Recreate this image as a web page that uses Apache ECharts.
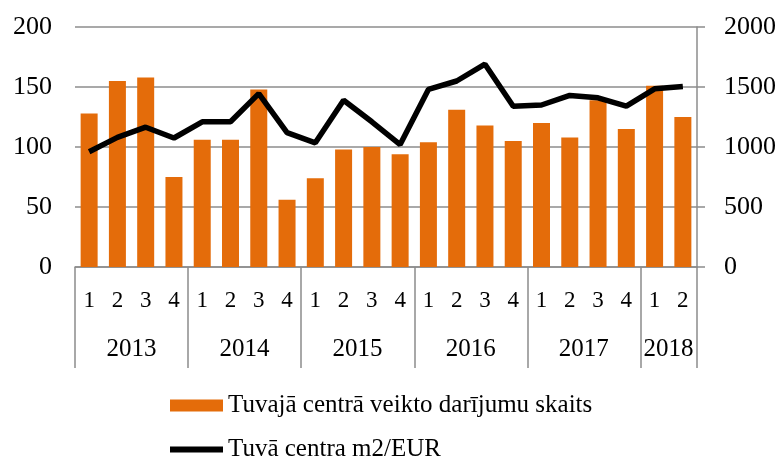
<!DOCTYPE html>
<html>
<head>
<meta charset="utf-8">
<script src="https://cdn.jsdelivr.net/npm/echarts@6/dist/echarts.min.js"></script>
<style>
  html, body { margin: 0; padding: 0; background: #fff; }
  #chart { width: 782px; height: 461px; }
</style>
</head>
<body>
<div id="chart"></div>
<script>
// ceturkšņi un gadi
var quarters = ["1","2","3","4","1","2","3","4","1","2","3","4","1","2","3","4","1","2","3","4","1","2"];
var years = ["2013","2013","2013","2013","2014","2014","2014","2014","2015","2015","2015","2015",
             "2016","2016","2016","2016","2017","2017","2017","2017","2018","2018"];
// darījumu skaits (kreisā ass)
var dealCount = [128,155,158,75, 106,106,148,56, 74,98,100,94, 104,131,118,105, 120,108,139,115, 151,125];
// m2/EUR (labā ass)
var priceM2 = [960,1080,1165,1075, 1210,1210,1445,1120, 1035,1390,1210,1020, 1480,1550,1690,1340, 1350,1430,1410,1340, 1485,1505];
var leftTicks = [0, 50, 100, 150, 200];
var rightTicks = [0, 500, 1000, 1500, 2000];

var barName = "Tuvajā centrā veikto darījumu skaits";
var lineName = "Tuvā centra m2/EUR";
var gray = "#8c8c8c";
var font = "Liberation Serif";

// gadu robežas un indekss, pie kura likt gada nosaukumu (grupas vidus)
var yearBounds = [0];
var yearLabelIdx = {};
(function () {
  var start = 0;
  for (var i = 1; i <= years.length; i++) {
    if (i === years.length || years[i] !== years[start]) {
      yearBounds.push(i);
      yearLabelIdx[start + (i - start) / 2 - 1] = true;
      start = i;
    }
  }
})();

var myChart = echarts.init(document.getElementById("chart"));
myChart.setOption({
  animation: false,
  textStyle: { fontFamily: font },
  grid: { left: 75, right: 85, top: 27, bottom: 194 },
  legend: [
    {
      left: 165,
      top: 388,
      itemWidth: 53,
      itemHeight: 12,
      textStyle: { fontFamily: font, fontSize: 25, color: "#000" },
      data: [{ name: barName, icon: "rect" }]
    },
    {
      left: 165,
      top: 432,
      itemWidth: 53,
      itemHeight: 12,
      textStyle: { fontFamily: font, fontSize: 25, color: "#000" },
      data: [{ name: lineName, icon: "path://M0,0h53v6h-53z" }]
    }
  ],
  xAxis: [
    {
      type: "category",
      data: quarters,
      position: "bottom",
      axisLine: { lineStyle: { color: gray, width: 1.5 } },
      axisTick: { show: false },
      axisLabel: { interval: 0, margin: 22, fontFamily: font, fontSize: 23, color: "#000" }
    },
    {
      type: "category",
      data: years,
      position: "bottom",
      axisLine: { show: false },
      axisTick: { show: false },
      axisLabel: {
        margin: 70,
        interval: function (i) { return !!yearLabelIdx[i]; },
        formatter: function (v) { return "{a|" + v + "}"; },
        rich: { a: { padding: [0, 0, 0, 28], fontFamily: font, fontSize: 25, color: "#000" } }
      }
    },
    {
      // gadu atdalītāji
      type: "value",
      position: "bottom",
      min: 0,
      max: quarters.length,
      interval: 4,
      axisLine: { show: false },
      axisLabel: { show: false },
      splitLine: { show: false },
      axisTick: {
        show: true,
        length: 101,
        customValues: yearBounds,
        lineStyle: { color: gray, width: 1.5 }
      }
    }
  ],
  yAxis: [
    {
      type: "value",
      min: leftTicks[0],
      max: leftTicks[leftTicks.length - 1],
      interval: 50,
      axisLine: { show: false },
      axisTick: { show: false },
      axisLabel: { margin: 23, fontFamily: font, fontSize: 26, color: "#000" },
      splitLine: { lineStyle: { color: gray, width: 1.5 } }
    },
    {
      type: "value",
      position: "right",
      min: rightTicks[0],
      max: rightTicks[rightTicks.length - 1],
      interval: 500,
      axisLine: { show: true, lineStyle: { color: gray, width: 1.5 } },
      axisTick: { show: true, length: 8, lineStyle: { color: gray, width: 1.5 } },
      axisLabel: {
        margin: 27,
        fontFamily: font,
        fontSize: 26,
        color: "#000",
        formatter: function (v) { return String(v); }
      },
      splitLine: { show: false }
    }
  ],
  series: [
    {
      name: barName,
      type: "bar",
      barWidth: 17,
      itemStyle: { color: "#E46C0A" },
      data: dealCount
    },
    {
      name: lineName,
      type: "line",
      yAxisIndex: 1,
      symbol: "none",
      lineStyle: { color: "#000", width: 5.5 },
      itemStyle: { color: "#000" },
      data: priceM2
    }
  ]
});
</script>
</body>
</html>
